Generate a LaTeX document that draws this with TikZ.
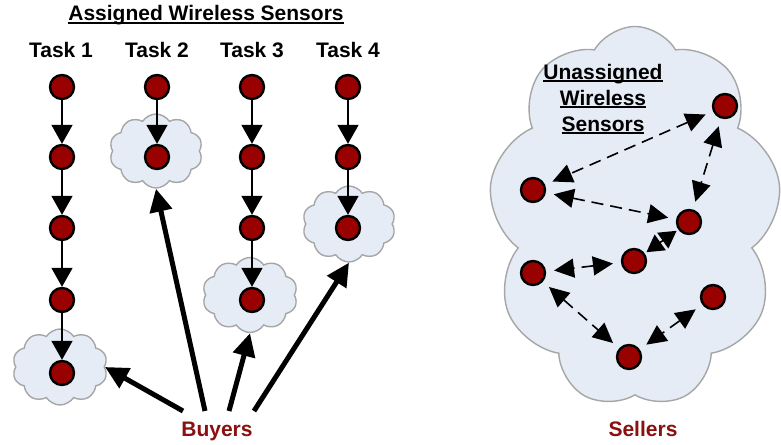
\documentclass[tikz,border=0pt]{standalone}
\usepackage{fontspec}
\setmainfont{Liberation Sans}
\usetikzlibrary{shapes.symbols,arrows.meta}
\definecolor{sensorred}{HTML}{990000}
\definecolor{labelred}{HTML}{8B1010}
\definecolor{cloudfill}{HTML}{E6ECF6}
\definecolor{cloudline}{HTML}{A6A6A6}
% underline that sits just under the baseline, crossing descenders
\newcommand\ulbar[1]{\setbox0\hbox{#1}\rlap{\rule[-3pt]{\wd0}{1.8pt}}\box0}
\tikzset{
  sensor/.style={circle,draw=black,line width=2.4pt,fill=sensorred,minimum size=24pt,inner sep=0pt},
  area/.style={cloud,cloud puffs=10,cloud puff arc=115,cloud ignores aspect,draw=cloudline,line width=1.4pt,fill=cloudfill,inner sep=0pt},
  lbl/.style={font=\bfseries\fontsize{21}{26}\selectfont,anchor=base,inner sep=0pt},
  chain/.style={line width=1.8pt,-{Triangle[length=19pt,width=21pt]}},
  buy/.style={line width=5pt,-{Triangle[length=23pt,width=22pt]}},
  link/.style={line width=1.6pt,dash pattern=on 12pt off 7pt,{Triangle[length=20pt,width=19pt]}-{Triangle[length=20pt,width=19pt]},shorten <=8pt,shorten >=8pt},
  shortlink/.style={line width=1.6pt,{Triangle[length=17pt,width=19pt]}-{Triangle[length=17pt,width=19pt]},shorten <=2pt,shorten >=2pt},
}
\begin{document}
\begin{tikzpicture}[x=1pt,y=-1pt]
\useasboundingbox[fill=white] (0,0) rectangle (781,444);

% clouds (behind everything)
\node[area,minimum width=95pt,minimum height=76pt] (k1) at (60,367) {};
\node[area,minimum width=93pt,minimum height=74pt] (k2) at (156,151) {};
\node[area,minimum width=95pt,minimum height=75pt] (k3) at (250,295) {};
\node[area,minimum width=93pt,minimum height=76pt] (k4) at (349,224) {};
\node[area,cloud puffs=9,cloud puff arc=120,minimum width=293pt,minimum height=381pt] (big) at (635,217) {};

% headings
\node[lbl] (title) at (206,21) {\ulbar{Assigned Wireless Sensors}};
\node[lbl] (t1) at (61,57) {Task 1};
\node[lbl] (t2) at (157,57) {Task 2};
\node[lbl] (t3) at (252,57) {Task 3};
\node[lbl] (t4) at (348,57) {Task 4};
\node[lbl] (u1) at (603,79) {\ulbar{Unassigned}};
\node[lbl] (u2) at (603,105) {\ulbar{Wireless}};
\node[lbl] (u3) at (603,131) {\ulbar{Sensors}};
\node[lbl,text=labelred] (buyers) at (217,436) {Buyers};
\node[lbl,text=labelred] (sellers) at (643,436) {Sellers};

% task chains
\foreach \n/\y in {1/87,2/157,3/228,4/300,5/373} \node[sensor] (a\n) at (62,\y) {};
\foreach \n/\y in {1/87,2/157} \node[sensor] (b\n) at (157,\y) {};
\foreach \n/\y in {1/87,2/157,3/228,4/300} \node[sensor] (c\n) at (252,\y) {};
\foreach \n/\y in {1/87,2/157,3/228} \node[sensor] (d\n) at (348,\y) {};

\draw[chain] (a1) -- (a2);
\draw[chain] (a2) -- (a3);
\draw[chain] (a3) -- (a4);
\draw[chain] (a4) -- (a5);
\draw[chain] (b1) -- (b2);
\draw[chain] (c1) -- (c2);
\draw[chain] (c2) -- (c3);
\draw[chain] (c3) -- (c4);
\draw[chain] (d1) -- (d2);
\draw[chain] (d2) -- (d3);

% buyers pointing at the assigned sensors
\coordinate (p1) at (183,411);
\coordinate (p2) at (205,411);
\coordinate (p3) at (229,411);
\coordinate (p4) at (254,411);
\draw[buy] (p1) -- (k1.east);
\draw[buy] (p2) -- (k2.south);
\draw[buy] (p3) -- (k3.south);
\draw[buy] (p4) -- (k4.south);

% unassigned sensors
\node[sensor] (sa) at (725,106) {};
\node[sensor] (sb) at (533,190) {};
\node[sensor] (sc) at (689,222) {};
\node[sensor] (sd) at (634,261) {};
\node[sensor] (se) at (533,273) {};
\node[sensor] (sf) at (713,297) {};
\node[sensor] (sg) at (629,357) {};

\draw[link] (sa) -- (sb);
\draw[link] (sa) -- (sc);
\draw[link] (sb) -- (sc);
\draw[shortlink] (sc) -- (sd);
\draw[link] (sd) -- (se);
\draw[link] (se) -- (sg);
\draw[link] (sf) -- (sg);
\end{tikzpicture}
\end{document}
